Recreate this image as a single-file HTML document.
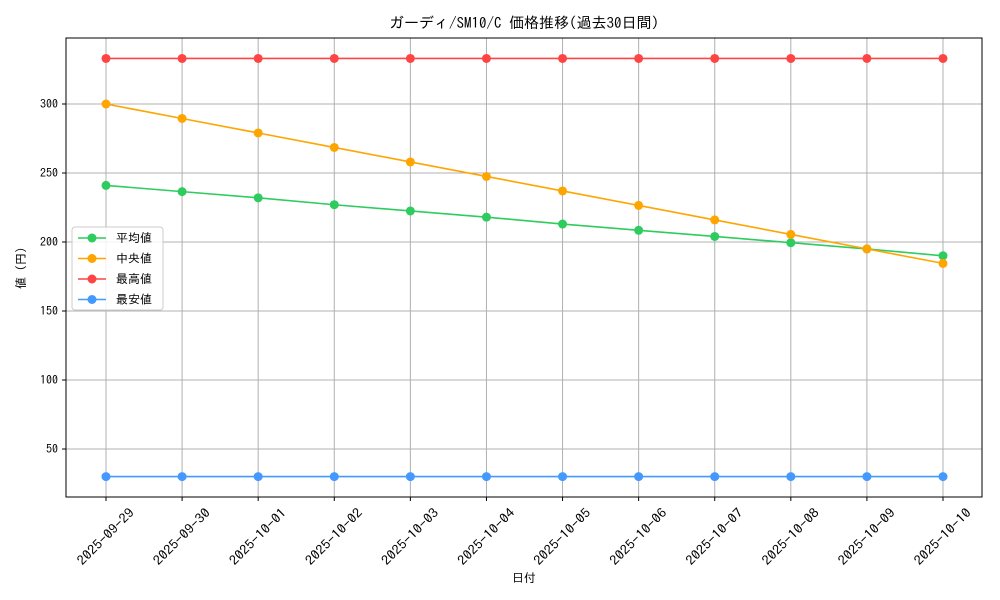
<!DOCTYPE html>
<html><head><meta charset="utf-8"><style>
body{margin:0;background:#fff}
svg{display:block;font-family:"IPAGothic","Liberation Mono","Noto Sans CJK JP",monospace}
</style></head><body>
<svg id="chart" width="1000" height="600" xmlns="http://www.w3.org/2000/svg">
<rect width="1000" height="600" fill="#fff"/>
<text x="524" y="28" text-anchor="middle" font-size="15">ガーディ/SM10/C 価格推移(過去30日間)</text>
<g id="grid"></g>
<g id="series"></g>
<rect x="66" y="38" width="916" height="459" fill="none" stroke="#000" stroke-width="1"/>
<g id="axes" font-size="12"></g>
<text x="524" y="582" text-anchor="middle" font-size="12">日付</text>
<text transform="translate(25,268) rotate(-90)" text-anchor="middle" font-size="12">値 (円)</text>
<g id="legend"></g>
</svg>
<script>
const categories=["2025-09-29","2025-09-30","2025-10-01","2025-10-02","2025-10-03","2025-10-04","2025-10-05","2025-10-06","2025-10-07","2025-10-08","2025-10-09","2025-10-10"];
const avgValues=[241,236.5,232,227,222.5,218,213,208.5,204,199.5,195,190];
const medianValues=[300,289.5,279,268.5,258,247.5,237,226.5,216,205.5,195,184.5];
const maxValues=[333,333,333,333,333,333,333,333,333,333,333,333];
const minValues=[30,30,30,30,30,30,30,30,30,30,30,30];
const yTicks=[50,100,150,200,250,300];
const seriesNames=["平均値","中央値","最高値","最安値"];
const NS="http://www.w3.org/2000/svg";
const X0=106,XSTEP=(943-106)/11;
function xs(i){return X0+i*XSTEP;}
function ys(v){return 518-v*1.38;}
function mk(tag,attrs,parent){const e=document.createElementNS(NS,tag);for(const k in attrs)e.setAttribute(k,attrs[k]);parent.appendChild(e);return e;}
const grid=document.getElementById('grid'),axes=document.getElementById('axes'),ser=document.getElementById('series'),leg=document.getElementById('legend');
categories.forEach((c,i)=>{
  const l=mk('line',{x1:xs(i),x2:xs(i),y1:38,y2:497,stroke:'#b0b0b0','stroke-width':1},grid);
  
  
  const t=mk('line',{x1:xs(i),x2:xs(i),y1:497,y2:501,stroke:'#000'},axes);
  
  
  const cx=xs(i),cy=537;
  const tx=mk('text',{x:cx,y:cy+4,'text-anchor':'middle','font-size':13,textLength:74,lengthAdjust:'spacingAndGlyphs',transform:`rotate(-45 ${cx} ${cy})`},axes);
  tx.textContent=c;
  
  
});
yTicks.forEach(v=>{
  const l=mk('line',{x1:66,x2:982,y1:ys(v),y2:ys(v),stroke:'#b0b0b0','stroke-width':1},grid);
  
  
  const t=mk('line',{x1:62,x2:66,y1:ys(v),y2:ys(v),stroke:'#000'},axes);
  
  
  const tx=mk('text',{x:58,y:ys(v)+4,'text-anchor':'end'},axes);
  tx.textContent=v;
  
  
});
const all=[[avgValues,'#2ecc5f','avg'],[medianValues,'#ffa500','median'],[maxValues,'#ff4444','max'],[minValues,'#4499ff','min']];
all.forEach(([vals,col,key])=>{
  const g=mk('g',{},ser);
  
  
  const p=mk('polyline',{points:vals.map((v,i)=>xs(i)+','+ys(v)).join(' '),fill:'none',stroke:col,'stroke-width':1.6},g);
  
  
  vals.forEach((v,i)=>{
    const c=mk('circle',{cx:xs(i),cy:ys(v),r:4.5,fill:col},g);
    
    
  });
});
const lb=mk('rect',{x:72,y:227,width:91,height:83,fill:'#fff','fill-opacity':0.85,stroke:'#ccc',rx:3},leg);


all.forEach(([vals,col,key],i)=>{
  const y=238+i*20.5;
  const g=mk('g',{},leg);
  
  
  mk('line',{x1:78,x2:106,y1:y,y2:y,stroke:col,'stroke-width':1.6},g);
  mk('circle',{cx:92,cy:y,r:4.5,fill:col},g);
  const t=mk('text',{x:116,y:y+4,'font-size':12},g);
  t.textContent=seriesNames[i];
});
</script>
</body></html>
